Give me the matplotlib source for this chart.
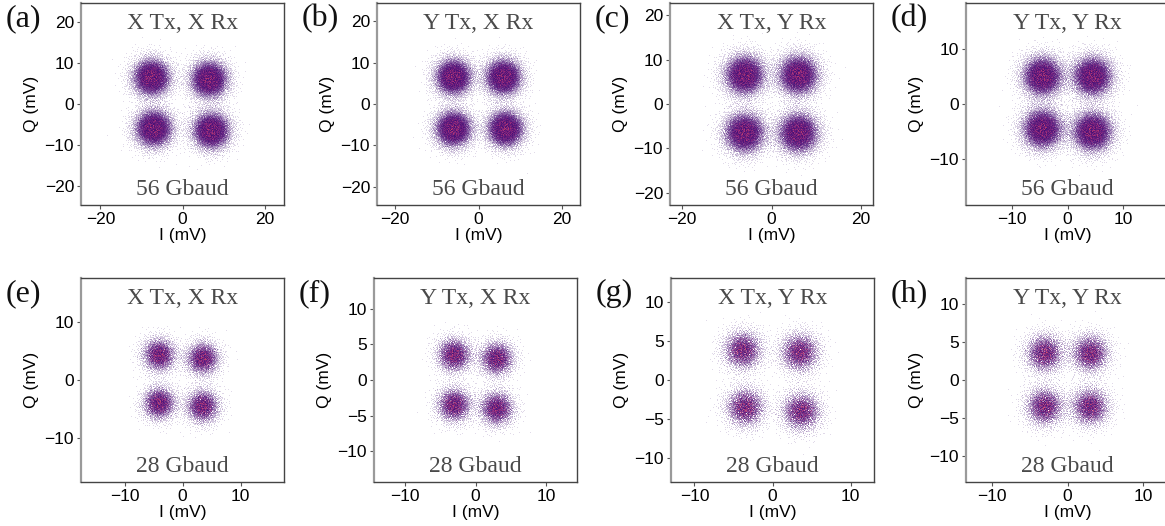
# ==========================================================
# QPSK constellations - X/Y polarisation, 56 and 28 Gbaud
# ==========================================================

import numpy as np
import matplotlib
matplotlib.use("Agg")
import matplotlib.pyplot as plt

# ==========================================================
# DATA
# ==========================================================

PANEL_TAGS = ["(a)", "(b)", "(c)", "(d)", "(e)", "(f)", "(g)", "(h)"]

TITLES = [
    "X Tx, X Rx", "Y Tx, X Rx", "X Tx, Y Rx", "Y Tx, Y Rx",
    "X Tx, X Rx", "Y Tx, X Rx", "X Tx, Y Rx", "Y Tx, Y Rx",
]

RATES = [
    "56 Gbaud", "56 Gbaud", "56 Gbaud", "56 Gbaud",
    "28 Gbaud", "28 Gbaud", "28 Gbaud", "28 Gbaud",
]

# half width of the (square) axes range, mV
LIMITS = [24.7, 24.4, 22.7, 18.3, 17.5, 14.3, 13.0, 13.4]

X_TICKS = [
    [-20, 0, 20], [-20, 0, 20], [-20, 0, 20], [-10, 0, 10],
    [-10, 0, 10], [-10, 0, 10], [-10, 0, 10], [-10, 0, 10],
]

Y_TICKS = [
    [-20, -10, 0, 10, 20], [-20, -10, 0, 10, 20], [-20, -10, 0, 10, 20],
    [-10, 0, 10], [-10, 0, 10],
    [-10, -5, 0, 5, 10], [-10, -5, 0, 5, 10], [-10, -5, 0, 5, 10],
]

# symbol centres: upper-left, upper-right, lower-left, lower-right
CENTERS_I = [
    [-7.5, 6.5, -7.0, 7.0],
    [-6.0, 6.0, -6.0, 6.5],
    [-6.0, 6.0, -6.0, 6.0],
    [-4.5, 4.5, -4.5, 4.5],
    [-4.0, 3.5, -4.0, 3.5],
    [-3.0, 3.0, -3.0, 3.0],
    [-3.8, 3.5, -3.5, 3.7],
    [-3.0, 3.0, -3.0, 3.0],
]

CENTERS_Q = [
    [6.5, 6.0, -6.0, -6.5],
    [6.5, 6.5, -6.0, -6.0],
    [6.5, 6.5, -6.5, -6.5],
    [5.0, 5.0, -4.5, -5.0],
    [4.3, 3.7, -4.0, -4.5],
    [3.5, 3.0, -3.5, -4.0],
    [3.8, 3.5, -3.5, -4.0],
    [3.5, 3.5, -3.5, -3.5],
]

# noise spread of each cloud (mV) and samples per symbol
SIGMAS = [2.5, 2.4, 2.5, 2.0, 1.6, 1.35, 1.4, 1.4]
N_SAMPLES = [7000, 7000, 7000, 7000, 2600, 2600, 2600, 2600]

# ==========================================================
# LAYOUT
# ==========================================================

W_PX, H_PX = 1165, 526

AX_LEFT_PX = [81, 377, 670, 966, 81, 374, 671, 966]
AX_TOP_PX = [3, 3, 3, 3, 278, 278, 278, 278]
AX_W_PX = 203
AX_H_PX = [202, 202, 202, 202, 204, 204, 204, 204]

SERIF = "Liberation Serif"
SANS = "Liberation Sans"
TEXT_GREY = "#4a4a4a"

plt.rcParams["font.family"] = SANS
plt.rcParams["font.size"] = 12


# ==========================================================
# SAMPLE CLOUD (deterministic low-discrepancy noise)
# ==========================================================

def halton(n, base, start=1):

    i = np.arange(start, start + n)
    f = 1.0
    r = np.zeros(n)

    while np.any(i > 0):
        f /= base
        r += f * (i % base)
        i = i // base

    return r


def cloud(k):

    n = N_SAMPLES[k]
    s = SIGMAS[k]

    xs, ys, vs = [], [], []

    for j in range(4):

        off = 1 + j * 7919 + k * 104729

        u1 = halton(n, 2, off)
        u2 = halton(n, 3, off)
        u3 = halton(n, 5, off)

        r = s * np.sqrt(-2 * np.log(u1))
        t = 2 * np.pi * u2

        xs.append(CENTERS_I[k][j] + r * np.cos(t))
        ys.append(CENTERS_Q[k][j] + r * np.sin(t))
        vs.append(u3)

    x = np.concatenate(xs)
    y = np.concatenate(ys)
    v = np.concatenate(vs)

    # local density from the cluster model
    dens = np.zeros_like(x)
    for j in range(4):
        d2 = (x - CENTERS_I[k][j])**2 + (y - CENTERS_Q[k][j])**2
        dens += np.exp(-d2 / (2 * s * s))

    dens = dens / dens.max()

    # interleave clusters so no cluster sits on top
    order = np.argsort(halton(len(x), 7))

    c = 0.2 + 0.45 * dens * v**2

    return x[order], y[order], c[order], dens[order]


# ==========================================================
# PANEL
# ==========================================================

def panel(fig, k):

    left = AX_LEFT_PX[k] / W_PX
    bottom = 1 - (AX_TOP_PX[k] + AX_H_PX[k]) / H_PX

    ax = fig.add_axes([left, bottom, AX_W_PX / W_PX, AX_H_PX[k] / H_PX])

    x, y, c, dens = cloud(k)

    cols = plt.cm.magma(c)
    cols[:, 3] = 0.15 + 0.5 * dens

    ax.scatter(x, y, c=cols, s=0.45, marker="s", linewidths=0,
               rasterized=True)

    lim = LIMITS[k]
    ax.set_xlim(-lim, lim)
    ax.set_ylim(-lim, lim)

    ax.set_xticks(X_TICKS[k])
    ax.set_yticks(Y_TICKS[k])

    ax.set_xlabel("I (mV)", fontsize=12.5, labelpad=1)
    ax.set_ylabel("Q (mV)", fontsize=12.5, labelpad=4)

    ax.tick_params(direction="out", length=3, width=0.8, color="#555555",
                   labelsize=12.5, pad=2)

    for side in ["top", "right", "bottom"]:
        ax.spines[side].set_color("#444444")
        ax.spines[side].set_linewidth(1.0)

    ax.spines["left"].set_color("#9a9a9a")
    ax.spines["left"].set_linewidth(1.6)

    ax.text(0.5, 0.90, TITLES[k], transform=ax.transAxes,
            ha="center", va="center", family=SERIF, fontsize=17,
            color=TEXT_GREY)

    ax.text(0.5, 0.075, RATES[k], transform=ax.transAxes,
            ha="center", va="center", family=SERIF, fontsize=17,
            color=TEXT_GREY)

    fig.text((AX_LEFT_PX[k] - 75) / W_PX, 1 - (AX_TOP_PX[k] + 1) / H_PX,
             PANEL_TAGS[k], ha="left", va="top", family=SERIF,
             fontsize=23, color="#111111")

    return ax


# ==========================================================
# MAIN
# ==========================================================

def main():

    fig = plt.figure(figsize=(W_PX / 100, H_PX / 100), dpi=100)

    for k in range(8):
        panel(fig, k)

    fig.savefig("out.png", dpi=100)


if __name__ == "__main__":

    main()
